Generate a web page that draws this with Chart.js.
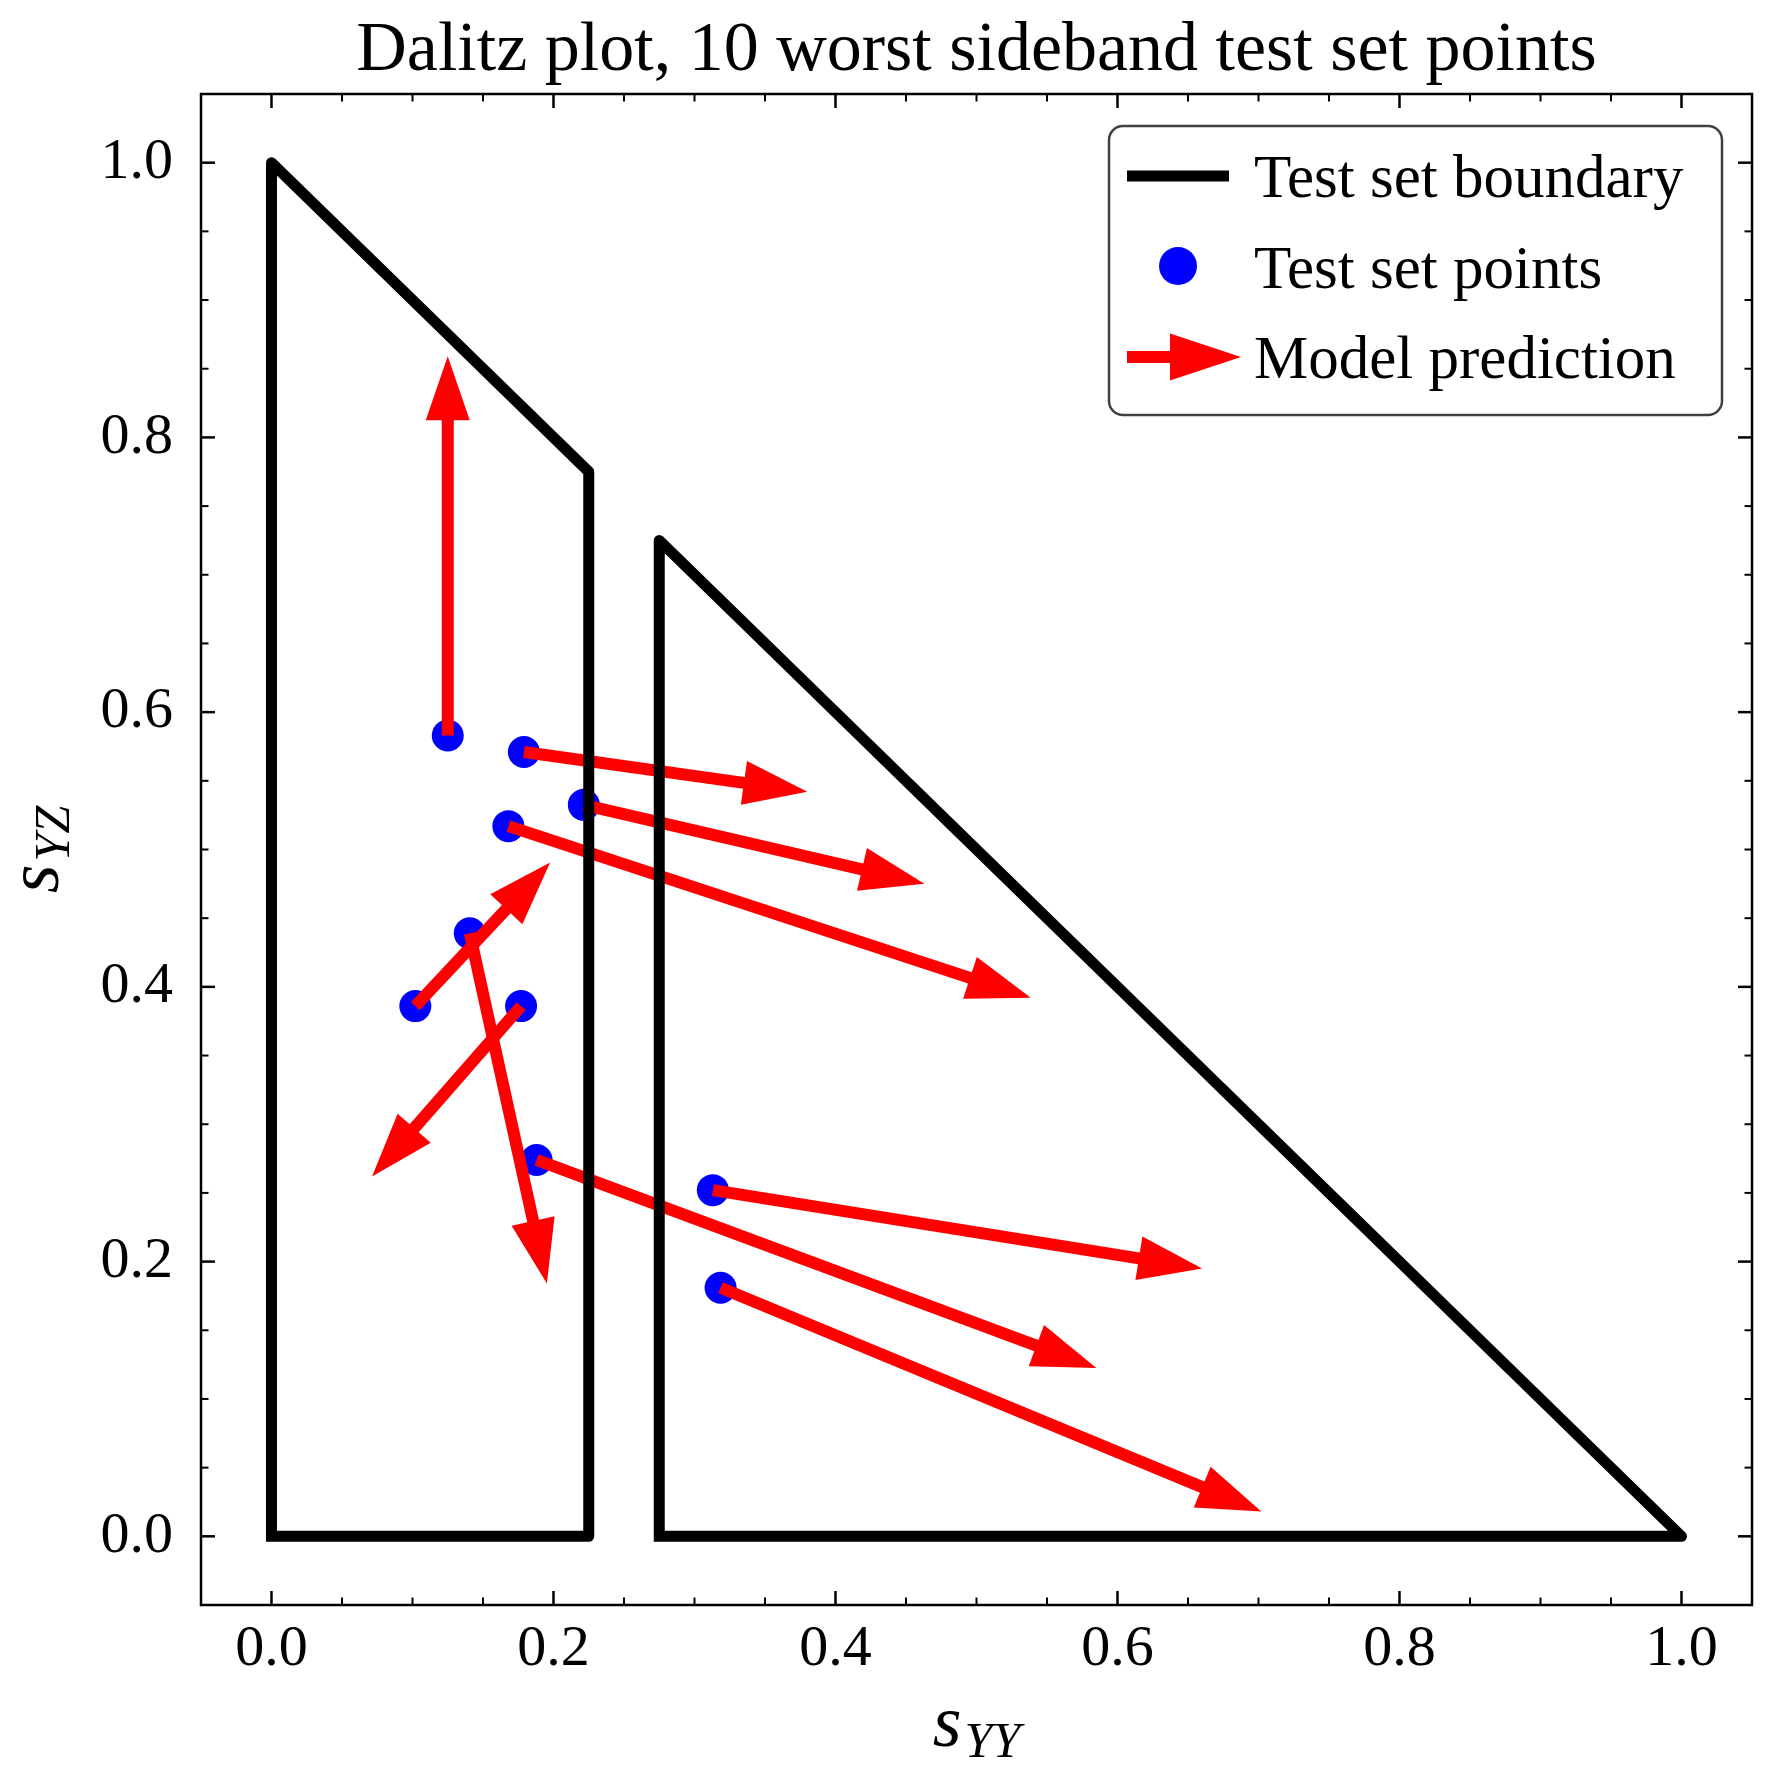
<!DOCTYPE html>
<html>
<head>
<meta charset="utf-8">
<script src="https://cdn.jsdelivr.net/npm/chart.js@4.4.0/dist/chart.umd.min.js"></script>
<style>
html, body { margin: 0; padding: 0; background: #fff; }
canvas { display: block; }
</style>
</head>
<body>
<canvas id="dalitzCanvas" width="1771" height="1788"></canvas>
<script>
// Dati del grafico
const xTicks = [0.0, 0.2, 0.4, 0.6, 0.8, 1.0];
const yTicks = [0.0, 0.2, 0.4, 0.6, 0.8, 1.0];

// Bordi del test set
const boundaryLeftX = [0, 0, 0.225, 0.225, 0];
const boundaryLeftY = [0, 1, 0.775, 0, 0];
const boundaryRightX = [0.275, 0.275, 1, 0.275];
const boundaryRightY = [0, 0.725, 0, 0];

// Punti del test set
const pointX = [0.125, 0.179, 0.2215, 0.168, 0.1406, 0.102, 0.177, 0.188, 0.313, 0.3185];
const pointY = [0.583, 0.571, 0.5325, 0.517, 0.439, 0.386, 0.386, 0.274, 0.252, 0.181];

// Predizioni del modello (punta della freccia)
const predX = [0.125, 0.380, 0.463, 0.5385, 0.1953, 0.1976, 0.0713, 0.585, 0.660, 0.702];
const predY = [0.859, 0.542, 0.475, 0.392, 0.184, 0.4905, 0.262, 0.1225, 0.195, 0.018];

const titleText = 'Dalitz plot, 10 worst sideband test set points';
const legendLabels = ['Test set boundary', 'Test set points', 'Model prediction'];

const FONT = '"Liberation Serif", "Times New Roman", serif';

function toXY(xs, ys) {
    return xs.map((x, i) => ({ x: x, y: ys[i] }));
}

function drawArrow(ctx, x0, y0, x1, y1, shaftW, headW, headL) {
    const dx = x1 - x0, dy = y1 - y0;
    const len = Math.hypot(dx, dy);
    const ux = dx / len, uy = dy / len;
    const px = -uy, py = ux;
    const bx = x1 - ux * headL, by = y1 - uy * headL;
    ctx.beginPath();
    ctx.moveTo(x0 + px * shaftW / 2, y0 + py * shaftW / 2);
    ctx.lineTo(bx + px * shaftW / 2, by + py * shaftW / 2);
    ctx.lineTo(bx + px * headW / 2, by + py * headW / 2);
    ctx.lineTo(x1, y1);
    ctx.lineTo(bx - px * headW / 2, by - py * headW / 2);
    ctx.lineTo(bx - px * shaftW / 2, by - py * shaftW / 2);
    ctx.lineTo(x0 - px * shaftW / 2, y0 - py * shaftW / 2);
    ctx.closePath();
    ctx.fill();
}

// Frecce disegnate subito dopo i punti (sotto ai bordi)
const arrowPlugin = {
    id: 'arrows',
    afterDatasetDraw(chart, args) {
        if (args.index !== 2) return;
        const ctx = chart.ctx;
        const xs = chart.scales.x, ys = chart.scales.y;
        ctx.save();
        ctx.fillStyle = '#ff0000';
        pointX.forEach((x, i) => {
            drawArrow(ctx,
                xs.getPixelForValue(x), ys.getPixelForValue(pointY[i]),
                xs.getPixelForValue(predX[i]), ys.getPixelForValue(predY[i]),
                12, 44, 64);
        });
        ctx.restore();
    }
};

// Cornice e tacche interne su tutti i lati
const framePlugin = {
    id: 'frame',
    afterDatasetsDraw(chart) {
        const ctx = chart.ctx;
        const a = chart.chartArea;
        const xs = chart.scales.x, ys = chart.scales.y;
        ctx.save();
        ctx.strokeStyle = '#000';
        ctx.lineWidth = 2.5;
        ctx.strokeRect(a.left, a.top, a.right - a.left, a.bottom - a.top);
        const tick = (x0, y0, x1, y1, w) => {
            ctx.lineWidth = w;
            ctx.beginPath();
            ctx.moveTo(x0, y0);
            ctx.lineTo(x1, y1);
            ctx.stroke();
        };
        for (let k = -1; k <= 21; k++) {
            const v = k * 0.05;
            const major = k % 4 === 0;
            const len = major ? 14 : 7.5;
            const w = major ? 2.5 : 2;
            const px = xs.getPixelForValue(v);
            if (px > a.left + 1 && px < a.right - 1) {
                tick(px, a.bottom, px, a.bottom - len, w);
                tick(px, a.top, px, a.top + len, w);
            }
            const py = ys.getPixelForValue(v);
            if (py > a.top + 1 && py < a.bottom - 1) {
                tick(a.left, py, a.left + len, py, w);
                tick(a.right, py, a.right - len, py, w);
            }
        }
        ctx.restore();
    },
    afterDraw(chart) {
        const ctx = chart.ctx;
        const a = chart.chartArea;
        const cx = (a.left + a.right) / 2;
        const cy = (a.top + a.bottom) / 2;
        ctx.save();
        ctx.fillStyle = '#000';

        // Titolo
        ctx.font = '70px ' + FONT;
        ctx.textAlign = 'center';
        ctx.textBaseline = 'alphabetic';
        ctx.fillText(titleText, cx, 70);

        // Etichette degli assi con pedice
        const mainFont = 'italic 74px ' + FONT;
        const subFont = 'italic 50px ' + FONT;
        const labelWithSub = (main, sub) => {
            ctx.font = mainFont;
            const w1 = ctx.measureText(main).width;
            ctx.font = subFont;
            const w2 = ctx.measureText(sub).width;
            const start = -(w1 + w2 + 3) / 2;
            ctx.textAlign = 'left';
            ctx.font = mainFont;
            ctx.fillText(main, start, 0);
            ctx.font = subFont;
            ctx.fillText(sub, start + w1 + 3, 11);
        };
        ctx.save();
        ctx.translate(cx, 1746);
        labelWithSub('s', 'YY');
        ctx.restore();
        ctx.save();
        ctx.translate(58, cy);
        ctx.rotate(-Math.PI / 2);
        labelWithSub('s', 'YZ');
        ctx.restore();

        // Legenda
        const lx = 1109, ly = 126, lw = 613, lh = 289, r = 14;
        ctx.beginPath();
        ctx.moveTo(lx + r, ly);
        ctx.arcTo(lx + lw, ly, lx + lw, ly + lh, r);
        ctx.arcTo(lx + lw, ly + lh, lx, ly + lh, r);
        ctx.arcTo(lx, ly + lh, lx, ly, r);
        ctx.arcTo(lx, ly, lx + lw, ly, r);
        ctx.closePath();
        ctx.fillStyle = 'rgba(255,255,255,0.9)';
        ctx.fill();
        ctx.strokeStyle = 'rgba(0,0,0,0.75)';
        ctx.lineWidth = 2.5;
        ctx.stroke();

        ctx.strokeStyle = '#000';
        ctx.lineWidth = 11;
        ctx.beginPath();
        ctx.moveTo(1127, 176);
        ctx.lineTo(1229, 176);
        ctx.stroke();

        ctx.fillStyle = '#0000ff';
        ctx.beginPath();
        ctx.arc(1178, 266, 19, 0, Math.PI * 2);
        ctx.fill();

        ctx.fillStyle = '#ff0000';
        drawArrow(ctx, 1127, 357, 1241, 357, 12, 47, 71);

        ctx.fillStyle = '#000';
        ctx.font = '61px ' + FONT;
        ctx.textAlign = 'left';
        ctx.textBaseline = 'alphabetic';
        [197, 288, 378].forEach((yb, i) => ctx.fillText(legendLabels[i], 1254, yb));

        ctx.restore();
    }
};

const canvas = document.getElementById('dalitzCanvas');
const chart = new Chart(canvas.getContext('2d'), {
    type: 'scatter',
    data: {
        datasets: [
            {
                label: legendLabels[0],
                data: toXY(boundaryLeftX, boundaryLeftY),
                showLine: true,
                borderColor: '#000',
                borderWidth: 11,
                borderJoinStyle: 'round',
                borderCapStyle: 'square',
                pointRadius: 0,
                order: 0
            },
            {
                label: legendLabels[0],
                data: toXY(boundaryRightX, boundaryRightY),
                showLine: true,
                borderColor: '#000',
                borderWidth: 11,
                borderJoinStyle: 'round',
                borderCapStyle: 'square',
                pointRadius: 0,
                order: 1
            },
            {
                label: legendLabels[1],
                data: toXY(pointX, pointY),
                showLine: false,
                backgroundColor: '#0000ff',
                borderWidth: 0,
                pointRadius: 16,
                order: 2
            }
        ]
    },
    options: {
        responsive: false,
        devicePixelRatio: 1,
        animation: false,
        layout: {
            autoPadding: false,
            padding: { top: 94, right: 19, bottom: 0, left: 0 }
        },
        plugins: {
            legend: { display: false },
            tooltip: { enabled: false },
            title: { display: false }
        },
        scales: {
            x: {
                type: 'linear',
                min: -0.05,
                max: 1.05,
                afterBuildTicks: (scale) => { scale.ticks = xTicks.map(v => ({ value: v })); },
                afterFit: (scale) => { scale.height = 183; },
                grid: { display: false, drawTicks: false },
                border: { display: false },
                ticks: {
                    padding: 10,
                    color: '#000',
                    maxRotation: 0,
                    font: { family: FONT, size: 58 },
                    callback: (v) => Number(v).toFixed(1)
                }
            },
            y: {
                type: 'linear',
                min: -0.05,
                max: 1.05,
                afterBuildTicks: (scale) => { scale.ticks = yTicks.map(v => ({ value: v })); },
                afterFit: (scale) => { scale.width = 201; },
                grid: { display: false, drawTicks: false },
                border: { display: false },
                ticks: {
                    padding: 28,
                    color: '#000',
                    font: { family: FONT, size: 58 },
                    callback: (v) => Number(v).toFixed(1)
                }
            }
        }
    },
    plugins: [arrowPlugin, framePlugin]
});
</script>
</body>
</html>
